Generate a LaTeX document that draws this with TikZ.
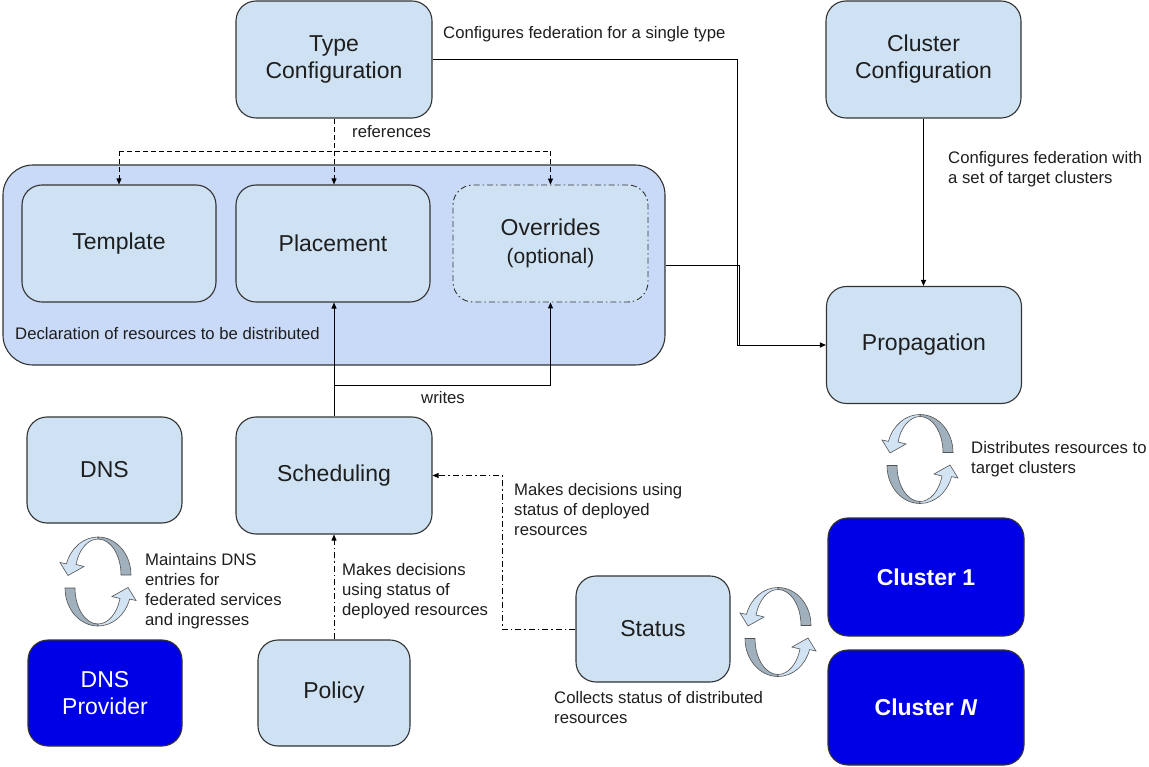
\documentclass[tikz,border=0pt]{standalone}
\usepackage{fontspec}
\setmainfont{Liberation Sans}
\usetikzlibrary{arrows.meta,calc}
\definecolor{lb}{HTML}{CFE2F3}
\definecolor{ob}{HTML}{C9DAF8}
\definecolor{db}{HTML}{0000E6}
\definecolor{bd}{HTML}{333333}
\definecolor{tx}{HTML}{1E1E1E}
\definecolor{cyd}{HTML}{A0B0BC}
\definecolor{cyl}{HTML}{D2E3F3}
\newcommand{\boxfont}{\fontsize{23}{27}\selectfont}
\newcommand{\smallfont}{\fontsize{16.7}{20}\selectfont}
\newcommand{\cychalf}{%
  \filldraw[fill=cyd,draw=bd!85,line width=0.6pt]
    (33,6.5) arc[start angle=0,end angle=90,x radius=33,y radius=38]
    -- (0,42.5) arc[start angle=90,end angle=0,x radius=23,y radius=36] -- cycle;
  \filldraw[fill=cyl,draw=bd!85,line width=0.6pt]
    (0,44.5) arc[start angle=90,end angle=163,x radius=33,y radius=38]
    -- (-38,19) -- (-30,6) -- (-14,15) -- (-22,17.03)
    arc[start angle=163,end angle=90,x radius=23,y radius=36] -- cycle;}
\newcommand{\cycarrows}[2]{%
  \begin{scope}[shift={(#1,#2)},yscale=-1]
    \cychalf
    \begin{scope}[rotate=180]\cychalf\end{scope}
  \end{scope}}
\begin{document}
\begin{tikzpicture}[x=1pt,y=-1pt,
  box/.style={draw=bd,line width=1.1pt,fill=lb,rounded corners=20pt,inner sep=0pt,align=center,font=\boxfont,text=tx},
  dark/.style={box,fill=db,text=white},
  lbl/.style={anchor=north west,inner sep=0pt,align=left,font=\smallfont,text=tx},
  conn/.style={draw=black,line width=0.9pt},
  arr/.style={-{Triangle[length=6pt,width=5pt]}},
  refs/.style={dash pattern=on 5pt off 3pt},
  ddot/.style={dash pattern=on 6pt off 3pt on 1.5pt off 3pt}]
\useasboundingbox (0,0) rectangle (1149,767);
\fill[white] (0,0) rectangle (1149,767);

% declaration container
\node[box,fill=ob,rounded corners=30pt,minimum width=662pt,minimum height=200pt] (decl) at (334,265) {};

% boxes
\node[box,minimum width=196pt,minimum height=117pt] (tc) at (334,59.5) {Type\\Configuration};
\node[box,minimum width=195pt,minimum height=117pt] (cc) at (923.5,59.5) {Cluster\\Configuration};
\node[box,minimum width=195pt,minimum height=117pt] (prop) at (924,345) {Propagation};
\node[box,minimum width=194pt,minimum height=117pt] (tmpl) at (119,243.5) {Template};
\node[box,minimum width=194pt,minimum height=117pt] (plc) at (333,243.5) {Placement};
\node[box,ddot,line width=0.9pt,minimum width=195pt,minimum height=117pt] (ovr) at (550.5,243.5) {Overrides\\[1pt]{\fontsize{21}{25}\selectfont (optional)}};
\node[box,minimum width=196pt,minimum height=117pt] (sched) at (334,475.5) {Scheduling};
\node[box,minimum width=155pt,minimum height=106pt] (dns) at (104.5,470) {DNS};
\node[dark,minimum width=154pt,minimum height=106pt] (dnsp) at (105,693) {DNS\\Provider};
\node[box,minimum width=152pt,minimum height=106pt] (pol) at (334,693) {Policy};
\node[box,minimum width=154pt,minimum height=106pt] (status) at (653,629) {Status};
\node[dark,minimum width=196pt,minimum height=118pt] (cl1) at (926,577) {\bfseries Cluster 1};
\node[dark,minimum width=196pt,minimum height=115pt] (cln) at (926,707.5) {\bfseries Cluster \textit{N}};

% labels
\node[lbl] (l1) at (443,26) {Configures federation for a single type};
\node[lbl] (l2) at (352,125) {references};
\node[lbl] (l3) at (948,151) {Configures federation with\\a set of target clusters};
\node[lbl] (l4) at (15,327) {Declaration of resources to be distributed};
\node[lbl] (l5) at (421,391) {writes};
\node[lbl] (l6) at (145,553) {Maintains DNS\\entries for\\federated services\\and ingresses};
\node[lbl] (l7) at (342,563) {Makes decisions\\using status of\\deployed resources};
\node[lbl] (l8) at (514,483) {Makes decisions using\\status of deployed\\resources};
\node[lbl] (l9) at (554,691) {Collects status of distributed\\resources};
\node[lbl] (l10) at (971,441) {Distributes resources to\\target clusters};

% references (dashed)
\coordinate (rl) at (tmpl.north |- 0,151);
\coordinate (rr) at (ovr.north |- 0,151);
\draw[conn,refs] (rl) -- (rr);
\draw[conn,refs,arr] (rl) -- (tmpl.north);
\draw[conn,refs,arr] (rr) -- (ovr.north);
\draw[conn,refs,arr] (tc.south) -- (tc.south |- plc.north);

% to propagation
\coordinate (pj) at ($(prop.west)+(-89,0)$);
\coordinate (pj2) at ($(prop.west)+(-87,0)$);
\draw[conn,arr] (tc.east) -| (pj) -- (prop.west);
\draw[conn] (decl.east) -| (pj2);
\draw[conn,arr] (cc.south) -- (cc.south |- prop.north);

% writes
\coordinate (wj) at (sched.north |- 0,385);
\draw[conn] (sched.north) -- (wj);
\draw[conn,arr] (wj) -- (wj |- plc.south);
\draw[conn,arr] (wj) -| (ovr.south);

% decisions
\draw[conn,ddot,arr] (pol.north) -- (sched.south);
\coordinate (sj) at ($(status.west)+(-73,0)$);
\draw[conn,ddot,arr] (status.west) -- (sj) |- (sched.east);

% cycle arrows
\cycarrows{98}{581.5}
\cycarrows{920}{459}
\cycarrows{778}{632}
\end{tikzpicture}
\end{document}
